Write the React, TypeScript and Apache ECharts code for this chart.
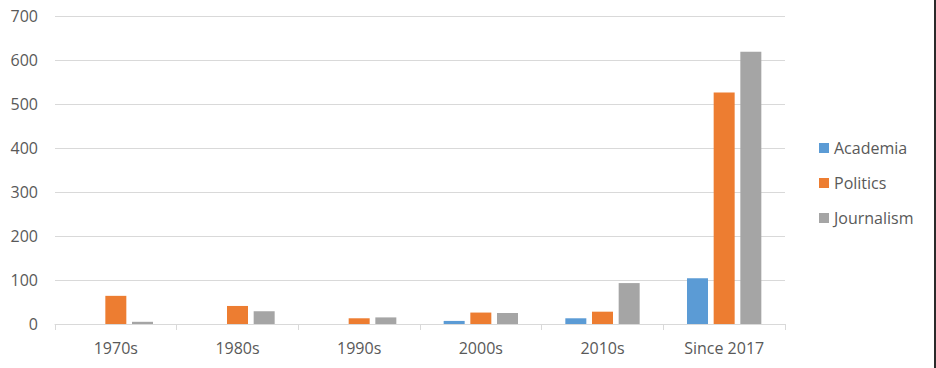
import React, { useEffect, useRef } from "react";
import * as echarts from "echarts";

const categories = ["1970s", "1980s", "1990s", "2000s", "2010s", "Since 2017"];
const academia = [0, 0, 0, 7, 13, 104];
const politics = [64, 41, 13, 26, 28, 526];
const journalism = [5, 29, 15, 25, 93, 619];
const seriesNames = ["Academia", "Politics", "Journalism"];
const colors = ["#5B9BD5", "#ED7D31", "#A5A5A5"];

export default function App() {
  const ref = useRef<HTMLDivElement>(null);
  useEffect(() => {
    if (!ref.current) return;
    const chart = echarts.init(ref.current, null, { renderer: "svg" });
    const font = "'Open Sans', sans-serif";
    const data = [academia, politics, journalism];
    chart.setOption({
      animation: false,
      backgroundColor: "#ffffff",
      grid: { left: 55, right: 151, top: 16, bottom: 44, containLabel: false },
      legend: {
        orient: "vertical",
        left: 814,
        top: 133,
        icon: "rect",
        itemWidth: 10,
        itemHeight: 10,
        itemGap: 15,
        data: seriesNames,
        textStyle: { fontFamily: font, fontSize: 16, color: "#595959", lineHeight: 20 },
      },
      xAxis: {
        type: "category",
        data: categories,
        axisLine: { lineStyle: { color: "#D9D9D9", width: 1 } },
        axisTick: { show: true, length: 6, lineStyle: { color: "#D9D9D9" } },
        axisLabel: { fontFamily: font, fontSize: 16, color: "#595959", margin: 16 },
      },
      yAxis: {
        type: "value",
        min: 0,
        max: 700,
        interval: 100,
        axisLine: { show: false },
        axisTick: { show: false },
        splitLine: { lineStyle: { color: "#D9D9D9", width: 1 } },
        axisLabel: { fontFamily: font, fontSize: 16, color: "#595959", margin: 17 },
      },
      series: seriesNames.map((name, i) => ({
        name,
        type: "bar",
        data: data[i],
        barWidth: 21,
        barGap: "27%",
        itemStyle: { color: colors[i] },
      })),
      graphic: [
        {
          type: "rect",
          right: 0,
          top: 0,
          shape: { width: 2, height: 368 },
          style: { fill: "#2b2b2b" },
        },
      ],
    });
    return () => chart.dispose();
  }, []);
  return (
    <div
      ref={ref}
      style={{ position: "fixed", left: 0, top: 0, width: 936, height: 368 }}
    />
  );
}
